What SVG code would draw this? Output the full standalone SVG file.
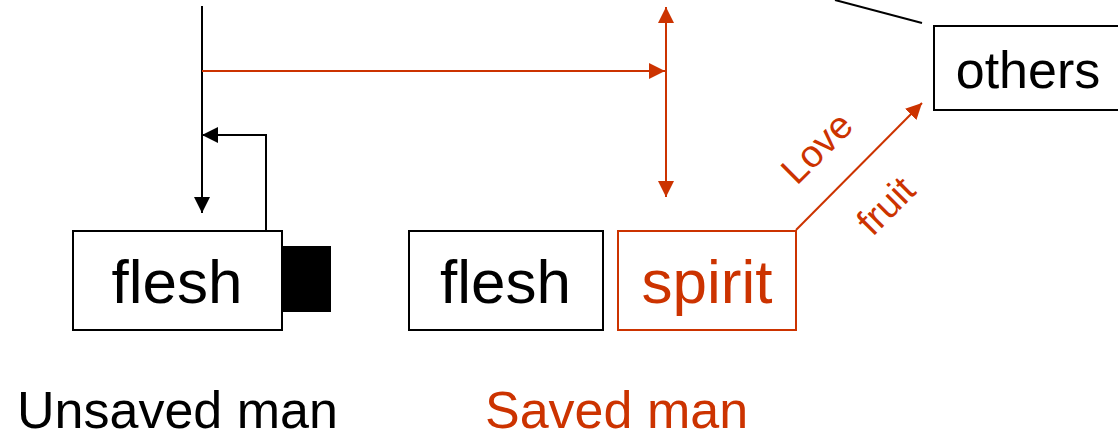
<svg xmlns="http://www.w3.org/2000/svg" width="1118" height="438" viewBox="0 0 1118 438">
  <style>
    .t { font-family: "Liberation Sans", Arial, sans-serif; }
    .box { fill: #fff; stroke: #000; stroke-width: 2; }
    .rbox { fill: #fff; stroke: #CC3300; stroke-width: 2; }
    .blk { stroke: #000; stroke-width: 2; fill: none; }
    .red { stroke: #CC3300; stroke-width: 2; fill: none; }
  </style>
  <defs>
    <marker id="ab" viewBox="0 0 10 10" refX="10" refY="5" markerWidth="8" markerHeight="8" markerUnits="strokeWidth" orient="auto-start-reverse">
      <path d="M0,0 L10,5 L0,10 Z" fill="#000"/>
    </marker>
    <marker id="ar" viewBox="0 0 10 10" refX="10" refY="5" markerWidth="8" markerHeight="8" markerUnits="strokeWidth" orient="auto-start-reverse">
      <path d="M0,0 L10,5 L0,10 Z" fill="#CC3300"/>
    </marker>
  </defs>
  <rect width="1118" height="438" fill="#fff"/>

  <g id="connectors">
    <line class="blk" x1="202" y1="6" x2="202" y2="213" marker-end="url(#ab)"/>
    <polyline class="blk" points="266,230 266,135 202,135" marker-end="url(#ab)"/>
    <line class="red" x1="202" y1="71" x2="665" y2="71" marker-end="url(#ar)"/>
    <line class="red" x1="666" y1="7" x2="666" y2="197" marker-start="url(#ar)" marker-end="url(#ar)"/>
    <line class="blk" x1="835" y1="0" x2="922" y2="23"/>
    <line class="red" x1="796" y1="230" x2="922" y2="103" marker-end="url(#ar)"/>
    <text class="t" font-size="38" fill="#CC3300" text-anchor="middle" transform="translate(826,157) rotate(-45)">Love</text>
    <text class="t" font-size="38" fill="#CC3300" text-anchor="middle" transform="translate(895,215) rotate(-45)">fruit</text>
  </g>

  <g id="unsaved-flesh">
    <rect class="box" x="73" y="231" width="209" height="99"/>
    <text class="t" x="177" y="303" font-size="62" text-anchor="middle">flesh</text>
  </g>
  <g id="unsaved-block">
    <rect x="283" y="246" width="48" height="66" fill="#000"/>
  </g>
  <g id="saved-flesh">
    <rect class="box" x="409" y="231" width="194" height="99"/>
    <text class="t" x="505.5" y="303" font-size="62" text-anchor="middle">flesh</text>
  </g>
  <g id="saved-spirit">
    <rect class="rbox" x="618" y="231" width="178" height="99"/>
    <text class="t" x="707" y="303" font-size="62" fill="#CC3300" text-anchor="middle">spirit</text>
  </g>
  <g id="others">
    <rect class="box" x="934" y="26" width="200" height="84"/>
    <text class="t" x="1028" y="88" font-size="52" text-anchor="middle">others</text>
  </g>
  <g id="labels">
    <text class="t" x="17" y="428" font-size="52">Unsaved man</text>
    <text class="t" x="485" y="428" font-size="52" fill="#CC3300">Saved man</text>
  </g>
</svg>
